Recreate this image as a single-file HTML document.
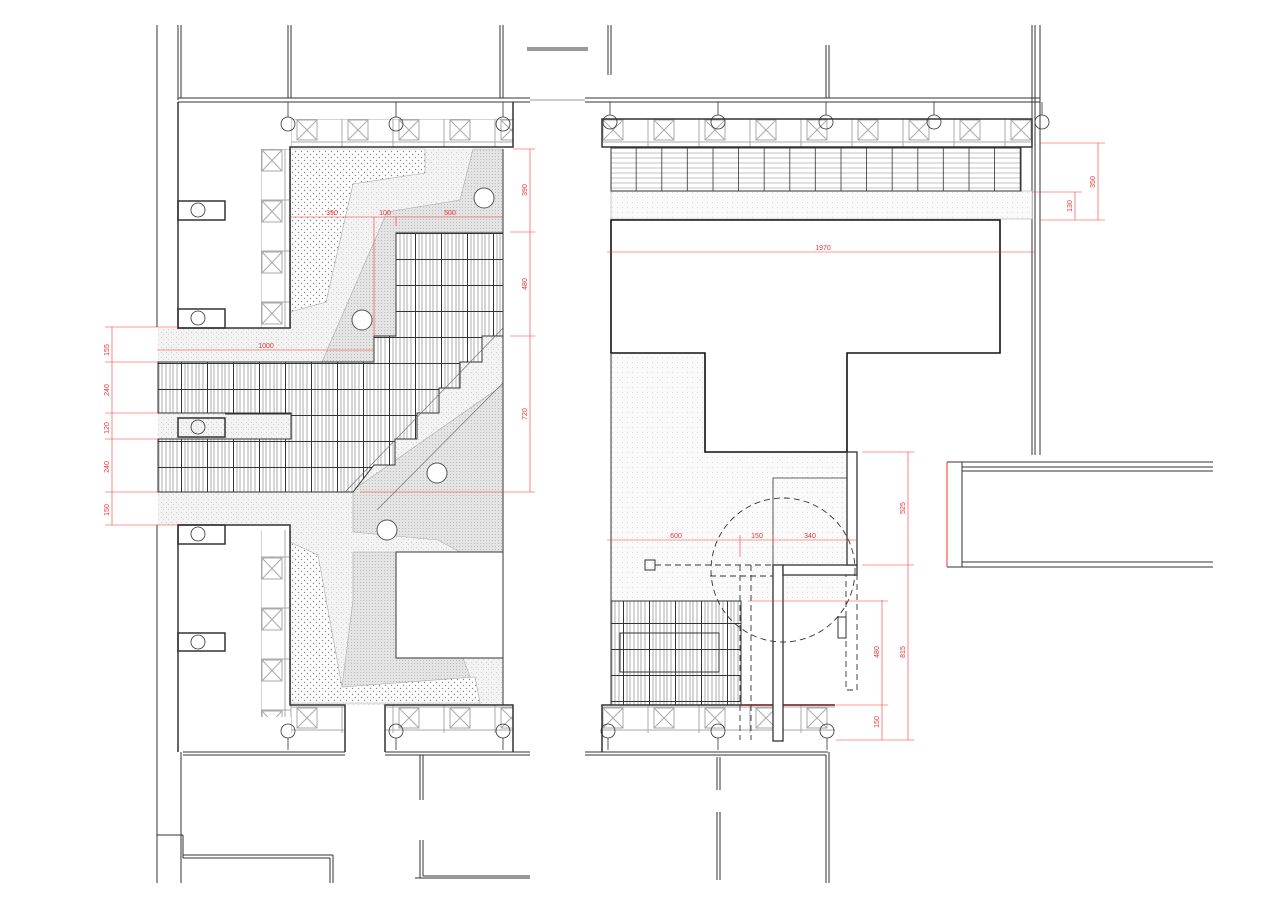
<!DOCTYPE html>
<html><head><meta charset="utf-8"><style>
html,body{margin:0;padding:0;background:#fff;}
svg{display:block;}
text{font-family:"Liberation Sans",sans-serif;font-size:7px;fill:#e33;}
</style></head><body>
<svg width="1280" height="905" viewBox="0 0 1280 905" xmlns="http://www.w3.org/2000/svg">
<defs>
<pattern id="dots" width="6" height="6" patternUnits="userSpaceOnUse"><rect width="6" height="6" fill="#fff"/><circle cx="1.5" cy="1.5" r="0.7" fill="#888"/><circle cx="4.5" cy="4.5" r="0.7" fill="#888"/></pattern>
<pattern id="noise" width="5" height="5" patternUnits="userSpaceOnUse"><rect width="5" height="5" fill="#f3f3f3"/><rect x="1" y="2" width="1" height="1" fill="#ccc"/><rect x="3" y="4" width="1" height="1" fill="#d5d5d5"/></pattern>
<pattern id="grid" width="3" height="3" patternUnits="userSpaceOnUse"><rect width="3" height="3" fill="#e4e4e4"/><rect width="1" height="1" fill="#bbb"/></pattern>
<pattern id="fdots" width="5" height="5" patternUnits="userSpaceOnUse"><rect width="5" height="5" fill="#fafafa"/><rect x="2" y="2" width="1" height="1" fill="#ddd"/></pattern>
<pattern id="vstripe" width="26" height="26" patternUnits="userSpaceOnUse"><rect width="26" height="26" fill="#fff"/><g stroke="#777" stroke-width="0.6"><line x1="3" y1="0" x2="3" y2="26"/><line x1="6" y1="0" x2="6" y2="26"/><line x1="10" y1="0" x2="10" y2="26"/><line x1="14" y1="0" x2="14" y2="26"/><line x1="17" y1="0" x2="17" y2="26"/><line x1="21" y1="0" x2="21" y2="26"/></g><line x1="25.5" y1="0" x2="25.5" y2="26" stroke="#333" stroke-width="1"/><line x1="0" y1="25.5" x2="26" y2="25.5" stroke="#333" stroke-width="1"/></pattern>
<pattern id="hstripe" x="611" y="148" width="25.6" height="43" patternUnits="userSpaceOnUse"><rect width="25.6" height="43" fill="#fff"/><g stroke="#888" stroke-width="0.6"><line x1="0" y1="5" x2="26" y2="5"/><line x1="0" y1="10" x2="26" y2="10"/><line x1="0" y1="15" x2="26" y2="15"/><line x1="0" y1="20" x2="26" y2="20"/><line x1="0" y1="25" x2="26" y2="25"/><line x1="0" y1="30" x2="26" y2="30"/><line x1="0" y1="35" x2="26" y2="35"/><line x1="0" y1="40" x2="26" y2="40"/></g><line x1="25.3" y1="0" x2="25.3" y2="43" stroke="#333"/></pattern>
<pattern id="xbox" x="291" y="119" width="51" height="28" patternUnits="userSpaceOnUse"><rect width="51" height="28" fill="#fff"/><g stroke="#aaa" stroke-width="1" fill="none"><rect x="6" y="1" width="20" height="20"/><line x1="6" y1="1" x2="26" y2="21"/><line x1="26" y1="1" x2="6" y2="21"/><line x1="0" y1="23" x2="51" y2="23"/><rect x="0" y="0" width="51" height="28"/></g></pattern>
<pattern id="xboxv" x="261" y="149" width="30" height="51" patternUnits="userSpaceOnUse"><rect width="30" height="51" fill="#fff"/><g stroke="#aaa" stroke-width="1" fill="none"><rect x="1" y="1" width="20" height="21"/><line x1="1" y1="1" x2="21" y2="22"/><line x1="21" y1="1" x2="1" y2="22"/><line x1="24" y1="0" x2="24" y2="51"/><rect x="0" y="0" width="30" height="51"/></g></pattern>
</defs>

<g fill="none" stroke="#333" stroke-width="1">
<line x1="157" y1="25" x2="157" y2="327"/><line x1="178" y1="25" x2="178" y2="100"/>
<line x1="181" y1="25" x2="181" y2="98"/>
<line x1="288" y1="25" x2="288" y2="98"/><line x1="291" y1="25" x2="291" y2="98"/>
<line x1="500" y1="25" x2="500" y2="98"/><line x1="503" y1="25" x2="503" y2="98"/>
<line x1="178" y1="98" x2="530" y2="98"/><line x1="178" y1="102" x2="530" y2="102"/>
<line x1="527" y1="50" x2="588" y2="50"/><line x1="527" y1="48" x2="588" y2="48"/>
<line x1="530" y1="100" x2="585" y2="100" stroke="#999"/>
<line x1="585" y1="98" x2="1040" y2="98"/><line x1="585" y1="102" x2="1040" y2="102"/>
<line x1="608" y1="25" x2="608" y2="75"/><line x1="611" y1="25" x2="611" y2="75"/>
<line x1="826" y1="45" x2="826" y2="98"/><line x1="829" y1="45" x2="829" y2="98"/>
<line x1="1032" y1="25" x2="1032" y2="455"/><line x1="1035" y1="25" x2="1035" y2="455"/><line x1="1040" y1="25" x2="1040" y2="455"/>
</g>

<polygon points="290,149 503,149 503,552 396,552 396,658 503,658 503,705 290,705 290,525 178,525 178,328 290,328" fill="url(#noise)"/>
<rect x="158" y="328" width="20" height="197" fill="url(#noise)"/>
<polygon points="473,149 503,149 503,232 396,232 396,336 374,336 374,362 322,362 387,212 460,200" fill="url(#grid)" stroke="#aaa" stroke-width="0.6"/>
<polygon points="290,149 425,149 425,173 353,184 326,302 290,312" fill="url(#dots)" stroke="#aaa" stroke-width="0.6"/>
<polygon points="353,532 353,490 503,385 503,552 460,552 438,540" fill="url(#grid)" stroke="#aaa" stroke-width="0.6"/>
<polygon points="353,552 396,552 396,658 440,658 460,650 480,703 342,687 353,600" fill="url(#grid)" stroke="#aaa" stroke-width="0.6"/>
<polygon points="290,542 318,555 342,687 475,677 480,703 290,703" fill="url(#dots)" stroke="#aaa" stroke-width="0.6"/>
<polygon points="396,552 503,552 503,658 396,658" fill="#fff" stroke="#333"/>
<polygon points="396,233 503,233 503,336 482,336 482,362 460,362 460,388 439,388 439,413 417,413 417,439 395,439 395,465 374,465 353,492 158,492 158,439 291,439 291,413 158,413 158,362 374,362 374,336 396,336" fill="url(#vstripe)" stroke="#333"/>
<line x1="503" y1="328" x2="345" y2="492" stroke="#666" stroke-width="0.6"/>
<line x1="503" y1="383" x2="377" y2="510" stroke="#666" stroke-width="0.6"/>
<g fill="#fff" stroke="#555"><circle cx="484" cy="198" r="10"/><circle cx="362" cy="320" r="10"/><circle cx="437" cy="473" r="10"/><circle cx="387" cy="530" r="10"/></g>
<line x1="503" y1="149" x2="503" y2="552" stroke="#333"/>
<line x1="503" y1="658" x2="503" y2="705" stroke="#333"/>

<rect x="291" y="119" width="222" height="28" fill="url(#xbox)"/>
<rect x="261" y="149" width="30" height="179" fill="url(#xboxv)"/>
<rect x="261" y="530" width="30" height="187" fill="url(#xboxv)"/>
<rect x="291" y="705" width="54" height="28" fill="url(#xbox)"/>
<rect x="385" y="705" width="128" height="28" fill="url(#xbox)"/>
<g fill="none" stroke="#333" stroke-width="1.5">
<polyline points="178,102 178,328 290,328 290,147 513,147 513,102"/>
<polyline points="178,752 178,525 290,525 290,705 345,705 345,752"/>
<polyline points="385,752 385,705 513,705 513,752"/>
<rect x="178" y="201" width="47" height="19"/><rect x="178" y="309" width="47" height="19"/>
<rect x="178" y="418" width="47" height="19"/><rect x="178" y="525" width="47" height="19"/><rect x="178" y="633" width="47" height="18"/>
</g>
<line x1="225" y1="414" x2="291" y2="414" stroke="#333"/><line x1="225" y1="439" x2="291" y2="439" stroke="#333"/>
<g fill="none" stroke="#333" stroke-width="0.8">
<circle cx="198" cy="210" r="7"/><circle cx="198" cy="318" r="7"/><circle cx="198" cy="427" r="7"/><circle cx="198" cy="534" r="7"/><circle cx="198" cy="642" r="7"/>
<circle cx="288" cy="124" r="7"/><circle cx="396" cy="124" r="7"/><circle cx="503" cy="124" r="7"/>
<line x1="288" y1="102" x2="288" y2="117"/><line x1="396" y1="102" x2="396" y2="117"/><line x1="503" y1="102" x2="503" y2="117"/>
<circle cx="288" cy="731" r="7"/><circle cx="396" cy="731" r="7"/><circle cx="503" cy="731" r="7"/>
<line x1="288" y1="738" x2="288" y2="750"/><line x1="396" y1="738" x2="396" y2="750"/><line x1="503" y1="738" x2="503" y2="750"/>
</g>

<g fill="none" stroke="#333" stroke-width="1">
<line x1="157" y1="525" x2="157" y2="883"/><line x1="181" y1="752" x2="181" y2="883"/>
<line x1="183" y1="752" x2="345" y2="752"/><line x1="183" y1="755" x2="345" y2="755"/>
<line x1="385" y1="752" x2="530" y2="752"/><line x1="385" y1="755" x2="530" y2="755"/>
<line x1="585" y1="752" x2="828" y2="752"/><line x1="585" y1="755" x2="826" y2="755"/>
<line x1="826" y1="755" x2="826" y2="883"/><line x1="829" y1="752" x2="829" y2="883"/>
<line x1="420" y1="755" x2="420" y2="800"/><line x1="423" y1="755" x2="423" y2="800"/>
<line x1="420" y1="840" x2="420" y2="878"/><line x1="423" y1="840" x2="423" y2="876"/>
<line x1="415" y1="878" x2="530" y2="878"/><line x1="423" y1="876" x2="530" y2="876"/>
<line x1="717" y1="757" x2="717" y2="790"/><line x1="720" y1="757" x2="720" y2="790"/>
<line x1="717" y1="812" x2="717" y2="880"/><line x1="720" y1="812" x2="720" y2="880"/>
<line x1="157" y1="835" x2="183" y2="835"/><line x1="183" y1="835" x2="183" y2="858"/>
<line x1="183" y1="855" x2="333" y2="855"/><line x1="183" y1="858" x2="330" y2="858"/>
<line x1="333" y1="855" x2="333" y2="883"/><line x1="330" y1="858" x2="330" y2="883"/>
</g>

<rect x="611" y="191" width="421" height="28" fill="url(#fdots)" stroke="#aaa" stroke-width="0.6"/>
<rect x="611" y="148" width="410" height="43" fill="url(#hstripe)" stroke="#333"/>
<rect x="602" y="119" width="430" height="28" fill="url(#xbox)"/>
<rect x="602" y="119" width="430" height="28" fill="none" stroke="#333" stroke-width="1.5"/>
<polygon points="611,353 705,353 705,452 847,452 847,600 611,600" fill="url(#fdots)"/>
<polygon points="611,220 1000,220 1000,353 847,353 847,452 705,452 705,353 611,353" fill="#fff" stroke="#111" stroke-width="1.6"/>
<line x1="611" y1="353" x2="611" y2="705" stroke="#333"/>
<rect x="611" y="601" width="130" height="104" fill="url(#vstripe)" stroke="#333"/>
<rect x="620" y="633" width="99" height="39" fill="none" stroke="#333" stroke-width="1"/>
<rect x="602" y="705" width="233" height="28" fill="url(#xbox)"/>
<polyline points="602,752 602,705 835,705" fill="none" stroke="#333" stroke-width="1.5"/>
<line x1="740" y1="705" x2="835" y2="705" stroke="#822" stroke-width="1.2"/>
<g fill="none" stroke="#333" stroke-width="0.8">
<circle cx="608" cy="731" r="7"/><circle cx="718" cy="731" r="7"/><circle cx="827" cy="731" r="7"/>
<line x1="608" y1="738" x2="608" y2="750"/><line x1="718" y1="738" x2="718" y2="750"/><line x1="827" y1="738" x2="827" y2="750"/>
<circle cx="610" cy="122" r="7"/><circle cx="718" cy="122" r="7"/><circle cx="826" cy="122" r="7"/><circle cx="934" cy="122" r="7"/><circle cx="1042" cy="122" r="7"/>
<line x1="610" y1="102" x2="610" y2="115"/><line x1="718" y1="102" x2="718" y2="115"/><line x1="826" y1="102" x2="826" y2="115"/><line x1="934" y1="102" x2="934" y2="115"/><line x1="1042" y1="102" x2="1042" y2="115"/>
</g>
<g fill="none" stroke="#333" stroke-width="1.3">
<rect x="773" y="565" width="10" height="176" fill="#fff"/>
<rect x="783" y="565" width="74" height="10" fill="#fff"/>
<rect x="847" y="452" width="10" height="113" fill="#fff"/>
<polyline points="773,565 773,478 847,478" stroke-width="0.8"/>
<rect x="645" y="560" width="10" height="10" stroke-width="1"/>
<rect x="838" y="617" width="8" height="21" stroke-width="1"/>
</g>
<g fill="none" stroke="#333" stroke-width="0.9" stroke-dasharray="6,4">
<circle cx="783" cy="570" r="72"/>
<line x1="655" y1="565" x2="773" y2="565"/><line x1="710" y1="576" x2="773" y2="576"/>
<line x1="740" y1="565" x2="740" y2="740"/><line x1="751" y1="565" x2="751" y2="740"/>
<rect x="846" y="575" width="11" height="115"/>
</g>

<g fill="none" stroke="#333" stroke-width="1">
<line x1="947" y1="462" x2="1213" y2="462"/><line x1="962" y1="467" x2="1213" y2="467"/><line x1="962" y1="471" x2="1213" y2="471"/>
<line x1="947" y1="567" x2="1213" y2="567"/><line x1="962" y1="562" x2="1213" y2="562"/>
<line x1="962" y1="462" x2="962" y2="567"/><line x1="947" y1="462" x2="947" y2="567" stroke="#e33"/>
</g>

<g stroke="#f33" stroke-width="0.6" fill="none">
<line x1="112" y1="327" x2="112" y2="525"/>
<line x1="105" y1="327" x2="178" y2="327"/><line x1="105" y1="362" x2="158" y2="362"/><line x1="105" y1="413" x2="158" y2="413"/><line x1="105" y1="439" x2="158" y2="439"/><line x1="105" y1="492" x2="158" y2="492"/><line x1="105" y1="525" x2="178" y2="525"/>
<line x1="157" y1="350" x2="374" y2="350"/>
<line x1="290" y1="217" x2="503" y2="217"/>
<line x1="374" y1="217" x2="374" y2="336"/><line x1="396" y1="217" x2="396" y2="226"/>
<line x1="530" y1="149" x2="530" y2="492"/>
<line x1="513" y1="149" x2="535" y2="149"/><line x1="510" y1="232" x2="535" y2="232"/><line x1="510" y1="336" x2="535" y2="336"/><line x1="360" y1="492" x2="535" y2="492"/>
<line x1="1098" y1="143" x2="1098" y2="220"/><line x1="1040" y1="143" x2="1105" y2="143"/><line x1="1040" y1="220" x2="1105" y2="220"/>
<line x1="1075" y1="192" x2="1075" y2="220"/><line x1="1032" y1="192" x2="1082" y2="192"/>
<line x1="607" y1="252" x2="1035" y2="252"/>
<line x1="607" y1="540" x2="857" y2="540"/><line x1="740" y1="535" x2="740" y2="557"/><line x1="773" y1="535" x2="773" y2="545"/>
<line x1="908" y1="452" x2="908" y2="740"/><line x1="862" y1="452" x2="914" y2="452"/><line x1="862" y1="565" x2="914" y2="565"/><line x1="836" y1="740" x2="914" y2="740"/>
<line x1="882" y1="600" x2="882" y2="740"/><line x1="748" y1="601" x2="888" y2="601"/><line x1="836" y1="705" x2="888" y2="705"/>
</g>
<g>
<text transform="translate(109,350) rotate(-90)" text-anchor="middle">155</text>
<text transform="translate(109,390) rotate(-90)" text-anchor="middle">240</text>
<text transform="translate(109,428) rotate(-90)" text-anchor="middle">120</text>
<text transform="translate(109,467) rotate(-90)" text-anchor="middle">240</text>
<text transform="translate(109,510) rotate(-90)" text-anchor="middle">150</text>
<text x="266" y="348" text-anchor="middle">1000</text>
<text x="332" y="215" text-anchor="middle">390</text>
<text x="385" y="215" text-anchor="middle">100</text>
<text x="450" y="215" text-anchor="middle">500</text>
<text transform="translate(527,190) rotate(-90)" text-anchor="middle">390</text>
<text transform="translate(527,284) rotate(-90)" text-anchor="middle">480</text>
<text transform="translate(527,414) rotate(-90)" text-anchor="middle">720</text>
<text transform="translate(1095,182) rotate(-90)" text-anchor="middle">350</text>
<text transform="translate(1072,206) rotate(-90)" text-anchor="middle">130</text>
<text x="823" y="250" text-anchor="middle">1970</text>
<text x="676" y="538" text-anchor="middle">600</text>
<text x="757" y="538" text-anchor="middle">150</text>
<text x="810" y="538" text-anchor="middle">340</text>
<text transform="translate(905,508) rotate(-90)" text-anchor="middle">525</text>
<text transform="translate(905,652) rotate(-90)" text-anchor="middle">815</text>
<text transform="translate(879,652) rotate(-90)" text-anchor="middle">480</text>
<text transform="translate(879,722) rotate(-90)" text-anchor="middle">150</text>
</g>
</svg>
</body></html>
